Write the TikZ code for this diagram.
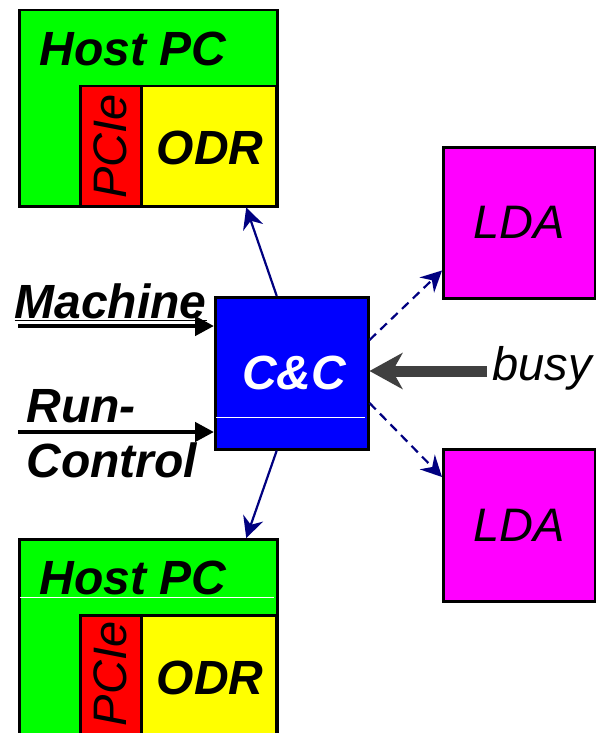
\documentclass[tikz,border=0pt]{standalone}
\usepackage{fontspec}
\setmainfont{Liberation Sans}
\usetikzlibrary{arrows.meta,calc}
\definecolor{hostgreen}{RGB}{0,255,0}
\definecolor{pcired}{RGB}{255,0,0}
\definecolor{odryellow}{RGB}{255,255,0}
\definecolor{ccblue}{RGB}{0,0,255}
\definecolor{ldamag}{RGB}{255,0,255}
\definecolor{linknavy}{RGB}{0,0,128}
\definecolor{busygray}{RGB}{64,64,64}
\tikzset{
  box/.style={draw=black, line width=2.5pt, rectangle, inner sep=0pt, anchor=north west},
  bigtxt/.style={font=\fontsize{48}{52}\selectfont\bfseries\itshape},
  lighttxt/.style={font=\fontsize{47}{51}\selectfont\itshape},
  link/.style={draw=linknavy, line width=2.2pt, -{Stealth[length=21pt,width=21pt,inset=7pt]}},
  dlink/.style={link, dash pattern=on 9pt off 6pt},
  inarrow/.style={draw=black, line width=4.5pt, -{Triangle[length=19pt,width=19pt]}},
  sepline/.style={draw=white, line width=1pt}
}
\begin{document}
\begin{tikzpicture}[x=1pt,y=-1pt]
\useasboundingbox (0,0) rectangle (596,733);
\clip (0,0) rectangle (596,733);

% upper host PC with its PCIe card and ODR
\node[box, fill=hostgreen, minimum width=258pt, minimum height=196pt] (host1) at (18,9) {};
\node[bigtxt] (host1t) at (133,49) {Host PC};
\node[box, fill=pcired, minimum width=61pt, minimum height=120pt] (pci1) at (79,85) {};
\node[lighttxt, rotate=90] (pci1t) at (pci1.center) {PCIe};
\node[box, fill=odryellow, minimum width=135pt, minimum height=120pt] (odr1) at (140,85) {};
\node[bigtxt] (odr1t) at (210,148) {ODR};

% lower host PC, running past the bottom edge
\node[box, fill=hostgreen, minimum width=258pt, minimum height=210pt] (host2) at (18,538) {};
\node[bigtxt] (host2t) at (133,578) {Host PC};
\coordinate (h2l) at (20,597);
\coordinate (h2r) at (274,597);
\draw[sepline] (h2l) -- (h2r);
\node[box, fill=pcired, minimum width=61pt, minimum height=130pt] (pci2) at (79,614) {};
\node[lighttxt, rotate=90] (pci2t) at (110,674) {PCIe};
\node[box, fill=odryellow, minimum width=135pt, minimum height=130pt] (odr2) at (140,614) {};
\node[bigtxt] (odr2t) at (210,678) {ODR};

% command & control unit
\node[box, fill=ccblue, minimum width=153pt, minimum height=152pt] (cc) at (214,296) {};
\node[bigtxt, text=white] (cct) at (294,373) {C\&C};
\coordinate (ccl) at (216,417);
\coordinate (ccr) at (365,417);
\draw[sepline] (ccl) -- (ccr);

% LDA boxes
\node[box, fill=ldamag, minimum width=152pt, minimum height=151pt] (lda1) at (442,146) {};
\node[lighttxt] (lda1t) at (lda1.center) {LDA};
\node[box, fill=ldamag, minimum width=152pt, minimum height=152pt] (lda2) at (442,448) {};
\node[lighttxt] (lda2t) at (lda2.center) {LDA};

% links from C&C
\draw[link] ([xshift=-15pt]cc.north) -- ([xshift=98pt]host1.south);
\draw[link] ([xshift=-15pt]cc.south) -- ([xshift=98pt]host2.north);
\draw[dlink] ([yshift=-44pt]cc.north east) -- ([yshift=29pt]lda1.south west);
\draw[dlink] ([yshift=-107pt]cc.north east) -- ([yshift=-29pt]lda2.north west);

% external inputs
\node[bigtxt, anchor=base west] (mach) at (11,318) {\underline{Machine}};
\coordinate (machin) at (18,326);
\draw[inarrow] (machin) -- (machin -| cc.west);
\node[bigtxt, anchor=base west] (run) at (23,422) {Run-};
\node[bigtxt, anchor=base west] (ctrl) at (23,477) {Control};
\coordinate (runin) at (18,432);
\draw[inarrow] (runin) -- (runin -| cc.west);

% busy signal
\node[lighttxt, anchor=west] (busy) at (489,368) {busy};
\coordinate (busyin) at (487,371);
\draw[draw=busygray, line width=11pt, -{Stealth[length=33pt,width=36pt,inset=10pt]}] (busyin) -- (busyin -| cc.east);
\end{tikzpicture}
\end{document}
